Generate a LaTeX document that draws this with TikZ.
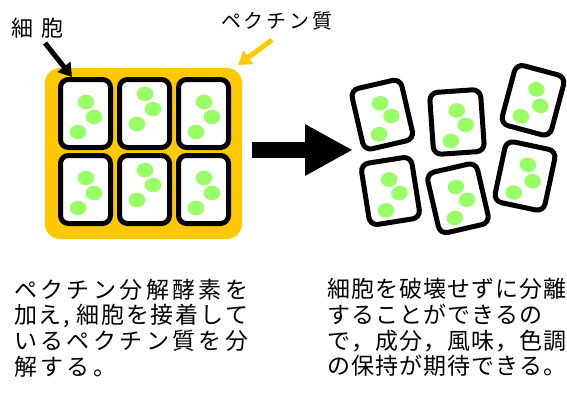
\documentclass[tikz,border=0pt]{standalone}
\usepackage{fontspec}
\setmainfont{Noto Sans CJK JP}
\usetikzlibrary{arrows.meta}
\definecolor{pectinyellow}{RGB}{255,200,0}
\definecolor{dotgreen}{RGB}{153,255,102}
% letter-spaced text: separator #1 between every character of #2
\makeatletter
\newcommand\spacedtext[2]{\def\st@sep{#1}\st@go#2\@nil}
\def\st@go#1#2\@nil{#1\ifx\relax#2\relax\else\st@sep\st@go#2\@nil\fi}
\makeatother
\begin{document}
\begin{tikzpicture}[x=1pt,y=-1pt,
  cellbox/.style={draw=black, line width=5pt, rounded corners=8pt, fill=white,
    inner sep=0pt, transform shape},
  dot/.style={fill=dotgreen},
  pics/cell/.style n args={3}{code={
    \node[cellbox, minimum width=#1, minimum height=#2] (-box) {};
    \fill[dot] (0.5,{-11.5-#3}) ellipse [x radius=8.3pt, y radius=7.3pt];
    \fill[dot] (8.5,{3.5-#3}) ellipse [x radius=8.3pt, y radius=7.3pt];
    \fill[dot] (-7.5,{18.5-#3}) ellipse [x radius=8.3pt, y radius=7.3pt];
  }},
  pectinbox/.style={fill=pectinyellow, rounded corners=15pt, inner sep=0pt},
  txt/.style={anchor=base west, inner sep=0pt, font=\fontsize{23pt}{27pt}\selectfont},
  lblarrow/.style={line width=5pt, -{Triangle[length=13pt,width=16pt]}},
  bigarrow/.style={line width=16pt, -{Triangle[length=48pt,width=48pt]}}
]
\useasboundingbox (0,0) rectangle (567,396);
\clip (0,0) rectangle (567,396);

% tissue: cells held together by pectin
\node[pectinbox, minimum width=197pt, minimum height=171pt] (pectin) at (143.5,153.5) {};
\pic (c11) at (85.5,113.5)  {cell={50pt}{68pt}{0}};
\pic (c12) at (144.5,113.5) {cell={50pt}{68pt}{8}};
\pic (c13) at (203.5,113.5) {cell={50pt}{68pt}{0}};
\pic (c21) at (85.5,189.5)  {cell={50pt}{68pt}{0}};
\pic (c22) at (144.5,189.5) {cell={50pt}{68pt}{8}};
\pic (c23) at (203.5,189.5) {cell={50pt}{68pt}{0}};

% separated cells
\pic[rotate=13]  (sA) at (382.3,114.6) {cell={51pt}{62pt}{0}};
\pic[rotate=4]   (sB) at (457,122)     {cell={51pt}{62pt}{0}};
\pic[rotate=-15] (sC) at (533,100.3)   {cell={51pt}{62pt}{0}};
\pic[rotate=9]   (sD) at (390.5,191)   {cell={51pt}{62pt}{0}};
\pic[rotate=13]  (sE) at (458,198.3)   {cell={51pt}{62pt}{0}};
\pic[rotate=-12] (sF) at (525,176)     {cell={51pt}{62pt}{0}};

% process arrow
\coordinate (arrS) at (252,150);
\coordinate (arrE) at (353,150);
\draw[bigarrow] (arrS) -- (arrE);

% labels
\node[txt, font=\fontsize{22pt}{26pt}\selectfont] (lblcell) at (11,36.4) {細\kern8pt 胞};
\node[txt, font=\fontsize{20pt}{24pt}\selectfont] (lblpectin) at (221,28.6)
  {\spacedtext{\kern2.75pt}{ペクチン質}};
\coordinate (cellTail) at (45,43);
\coordinate (cellTip) at (72,77);
\draw[lblarrow] (cellTail) -- (cellTip);
\coordinate (pecTail) at (272,40);
\coordinate (pecTip) at (238,65);
\draw[lblarrow, pectinyellow] (pecTail) -- (pecTip);

% explanations
\node[txt] (l1) at (14,298) {\spacedtext{\kern3.4pt}{ペクチン分解酵素を}};
\node[txt] (l2) at (14,323.5) {\makebox[234pt][l]{\spacedtext{\hfill}{加え{,\kern5pt}細胞を接着して}}};
\node[txt] (l3) at (14,349.5) {\spacedtext{\kern3.4pt}{いるペクチン質を分}};
\node[txt] (l4) at (14,375) {\spacedtext{\kern3.4pt}{解する。}};

\node[txt] (r1) at (327.5,297) {\spacedtext{\kern1pt}{細胞を破壊せずに分離}};
\node[txt] (r2) at (327.5,323) {\spacedtext{\kern1pt}{することができるの}};
\node[txt] (r3) at (327.5,349) {\spacedtext{\kern1pt}{で，成分，風味，色調}};
\node[txt] (r4) at (327.5,374.5) {\spacedtext{\kern1pt}{の保持が期待できる。}};
\end{tikzpicture}
\end{document}
